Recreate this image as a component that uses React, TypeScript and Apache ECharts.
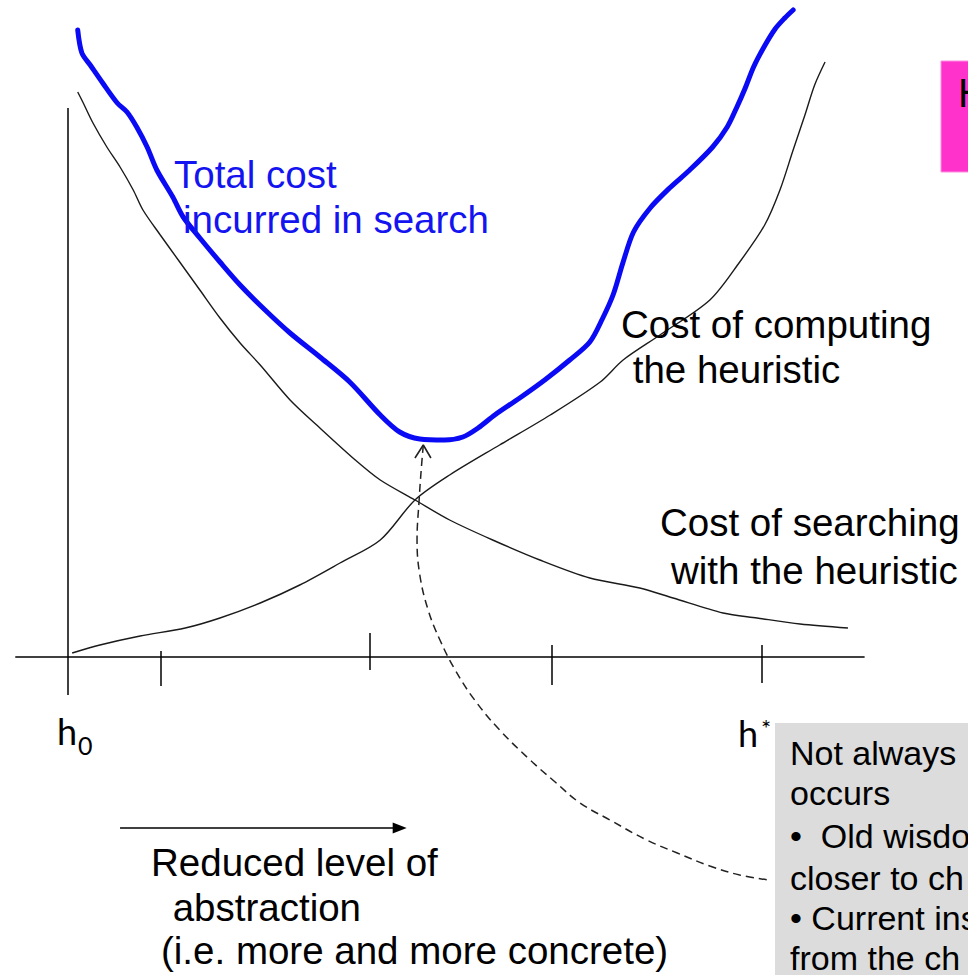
import React, { useEffect, useRef } from "react";
import * as echarts from "echarts";

// x: level of concreteness (h0 = 0, h* = 10); y: cost (0 on the horizontal axis)
const totalCost: [number, number][] = [
  [0.14, 125.4], [0.2, 120.8], [0.32, 118.4], [0.5, 114.8], [0.71, 110.8], [0.85, 109.0],
  [0.99, 106.0], [1.14, 102.0], [1.28, 97.4], [1.51, 92.0], [1.66, 88.0], [1.9, 83.8],
  [2.19, 79.0], [2.48, 74.4], [2.84, 69.4], [3.2, 64.8], [3.63, 60.0], [4.06, 55.0],
  [4.5, 48.4], [4.78, 45.0], [5.07, 43.6], [5.43, 43.4], [5.69, 44.0], [5.91, 45.8],
  [6.15, 48.4], [6.51, 51.8], [6.87, 55.4], [7.23, 59.4], [7.52, 63.0], [7.7, 67.6],
  [7.86, 72.6], [8.0, 79.0], [8.15, 85.0], [8.39, 89.8], [8.67, 93.8], [8.96, 97.4],
  [9.29, 102.0], [9.5, 106.0], [9.64, 110.0], [9.76, 113.8], [9.88, 118.0], [10.03, 122.0],
  [10.19, 125.6], [10.33, 127.8], [10.45, 129.4],
];

const searchCost: [number, number][] = [
  [0.14, 113.0], [0.22, 110.8], [0.36, 106.8], [0.56, 102.0], [0.75, 98.0], [0.94, 93.4],
  [1.08, 89.4], [1.33, 84.4], [1.61, 79.0], [1.9, 73.4], [2.19, 67.8], [2.48, 62.8],
  [2.77, 58.4], [3.2, 51.4], [3.63, 45.8], [4.14, 39.4], [4.5, 35.4], [5.0, 31.4],
  [5.5, 27.4], [6.12, 23.4], [6.8, 19.4], [7.52, 15.8], [8.24, 13.8], [8.72, 11.8],
  [9.44, 8.8], [9.93, 7.8], [10.55, 6.6], [11.24, 5.8],
];

const computeCost: [number, number][] = [
  [0.06, 0.8], [0.46, 2.4], [1.04, 4.2], [1.69, 5.8], [2.19, 7.8], [2.77, 10.8],
  [3.34, 14.4], [3.92, 18.8], [4.5, 23.4], [5.0, 31.4], [5.5, 36.4], [6.22, 42.4],
  [6.95, 48.4], [7.67, 55.0], [8.0, 59.4], [8.53, 64.4], [9.25, 71.4], [9.68, 79.0],
  [10.04, 86.4], [10.26, 93.4], [10.45, 101.4], [10.62, 108.4], [10.76, 114.4], [10.91, 119.0],
];

const pointerPath: [number, number][] = [
  [5.12, 42.4], [5.09, 37.4], [5.06, 31.4], [5.03, 23.4], [5.07, 16.4], [5.19, 9.4],
  [5.36, 3.4], [5.58, -2.6], [5.86, -8.6], [6.22, -14.6], [6.66, -20.6], [7.02, -25.0],
  [7.38, -29.2], [7.81, -32.6], [8.34, -36.6], [8.78, -39.2], [9.25, -41.8], [9.68, -43.6],
  [10.09, -44.6],
];
const pointerHead: [number, number][] = [[5.0, 39.8], [5.12, 42.4], [5.23, 39.8]];

const xAxisLine: [number, number][] = [[-0.76, 0], [11.48, 0]];
const yAxisLine: [number, number][] = [[0, 109.8], [0, -7.6]];
const tickXs = [1.33, 4.35, 6.97, 10.0];
const tickTops = [1.2, 4.8, 2.4, 2.4];
const tickBottoms = [-5.8, -2.6, -5.6, -5.2];
const directionArrow: [number, number][] = [[0.75, -34.2], [4.78, -34.2]];

const totalLabel = ["Total cost", "incurred in search"];
const computeLabel = ["Cost of computing", " the heuristic"];
const searchLabel = ["Cost of searching", "with the heuristic"];
const directionLabel = ["Reduced level of", " abstraction", "(i.e. more and more concrete)"];
const noteLines = ["Not always", "occurs", "•  Old wisdo", "closer to ch", "• Current ins", "from the ch"];
const titleFragment = "H";

const FONT = "'Liberation Sans', Arial, Helvetica, sans-serif";
const HFONT = "Lato, 'Open Sans', sans-serif";

export default function App() {
  const ref = useRef<HTMLDivElement>(null);
  useEffect(() => {
    document.body.style.margin = "0";
    const chart = echarts.init(ref.current!, undefined, { renderer: "svg" });
    const txt = (text: string, x: number, y: number, size: number, color = "#000", family = FONT) => ({
      type: "text",
      x,
      y,
      z: 100,
      style: { text, fill: color, font: `${size}px ${family}`, verticalAlign: "middle", align: "left" },
    });
    const lineStyleBlack = { color: "#1a1a1a", width: 1.4 };
    const option: any = {
      animation: false,
      backgroundColor: "#ffffff",
      grid: { left: 0, right: 0, top: 0, bottom: 0 },
      xAxis: { type: "value", min: -0.98, max: 12.97, show: false },
      yAxis: { type: "value", min: -63.6, max: 131.4, show: false },
      series: [
        {
          type: "line",
          name: "axes",
          data: xAxisLine,
          symbol: "none",
          lineStyle: { color: "#000", width: 1.5 },
          silent: true,
          markLine: {
            silent: true,
            symbol: "none",
            label: { show: false },
            lineStyle: { color: "#000", width: 1.5, type: "solid" },
            data: [
              [{ coord: yAxisLine[0] }, { coord: yAxisLine[1] }],
              ...tickXs.map((x, i) => [{ coord: [x, tickTops[i]] }, { coord: [x, tickBottoms[i]] }]),
            ],
          },
        },
        {
          type: "line",
          name: "direction",
          data: directionArrow,
          symbol: "none",
          lineStyle: { color: "#000", width: 1.6 },
          markPoint: {
            silent: true,
            symbol: "triangle",
            symbolSize: [11, 14],
            symbolRotate: -90,
            itemStyle: { color: "#000" },
            label: { show: false },
            data: [{ coord: directionArrow[1] }],
          },
        },
        {
          type: "line",
          name: "Cost of searching with the heuristic",
          data: searchCost,
          smooth: 0.3,
          symbol: "none",
          lineStyle: lineStyleBlack,
        },
        {
          type: "line",
          name: "Cost of computing the heuristic",
          data: computeCost,
          smooth: 0.3,
          symbol: "none",
          lineStyle: lineStyleBlack,
        },
        {
          type: "line",
          name: "Total cost incurred in search",
          data: totalCost,
          smooth: 0.3,
          symbol: "none",
          lineStyle: { color: "#0a0af5", width: 5, cap: "round", join: "round" },
        },
        {
          type: "line",
          name: "pointer",
          data: pointerPath,
          smooth: 0.4,
          symbol: "none",
          lineStyle: { color: "#222", width: 1.5, type: [8, 5] },
        },
        {
          type: "line",
          name: "pointer head",
          data: pointerHead,
          symbol: "none",
          lineStyle: { color: "#222", width: 1.6 },
        },
      ],
      graphic: [
        { type: "rect", z: 90, shape: { x: 941, y: 61, width: 40, height: 111 }, style: { fill: "#ff33cc", stroke: "#ff8fe0", lineWidth: 1 } },
        { type: "rect", z: 90, shape: { x: 775, y: 723, width: 200, height: 260 }, style: { fill: "#dcdcdc" } },
        txt(titleFragment, 958, 93, 40),
        txt(totalLabel[0], 174, 174, 38.5, "#1414f0"),
        txt(totalLabel[1], 183, 219, 38.5, "#1414f0"),
        txt(computeLabel[0], 621, 324, 38.5),
        txt(computeLabel[1], 622, 369, 38.5),
        txt(searchLabel[0], 660, 522, 38.5),
        txt(searchLabel[1], 671, 570, 38.5),
        txt(directionLabel[0], 151, 862, 38.5),
        txt(directionLabel[1], 162, 907, 38.5),
        txt(directionLabel[2], 161, 950, 38.5),
        txt("h", 57, 731, 36, "#000", HFONT),
        txt("0", 78, 745, 25, "#000", HFONT),
        txt("h", 738, 733, 36, "#000", HFONT),
        txt("*", 761, 727, 24, "#000", HFONT),
        ...noteLines.map((t, i) => txt(t, 790, [753, 793, 836, 878, 918, 958][i], 34)),
      ],
    };
    chart.setOption(option);
    return () => chart.dispose();
  }, []);
  return <div ref={ref} style={{ width: 968, height: 975 }} />;
}
